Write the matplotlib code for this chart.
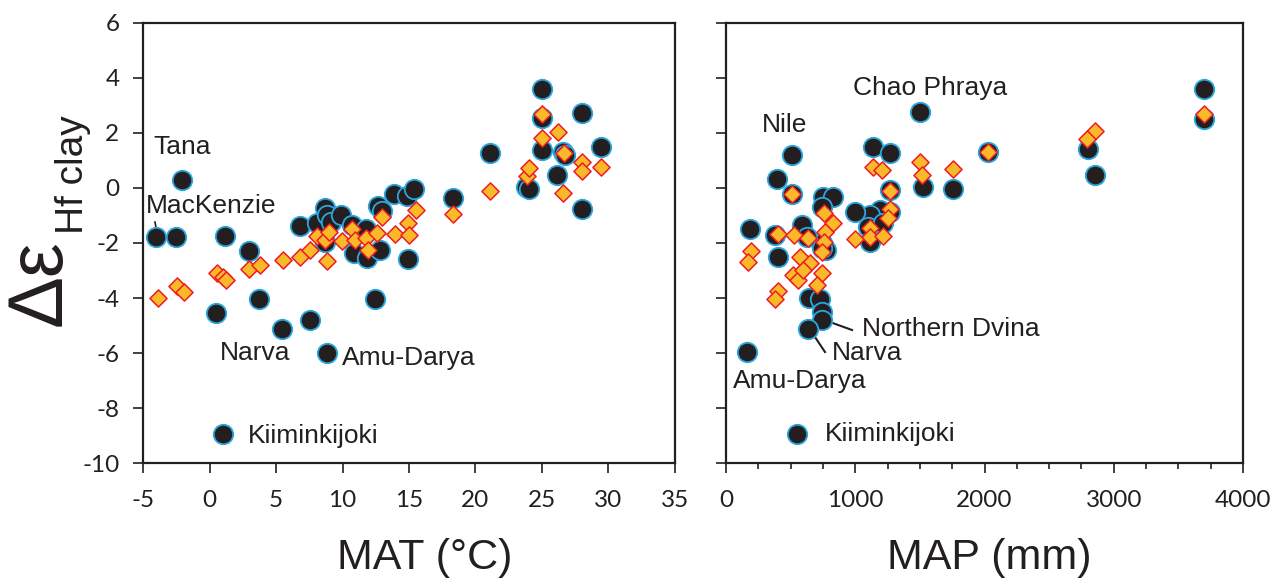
import matplotlib
matplotlib.use("Agg")
import matplotlib.pyplot as plt
from matplotlib.ticker import MultipleLocator

plt.rcParams["axes.unicode_minus"] = False

# --- MAT panel: black circles (measured), yellow diamonds (second estimate) ---
mat_circ_x = [-2.1, -4.0, -2.5, 1.2, 3.0, 6.8, 8.1, 8.7, 8.8, 9.1, 8.7, 9.9, 10.7, 10.85,
              11.8, 11.85, 12.7, 12.95, 12.8, 13.9, 14.85, 15.4, 14.9, 18.3, 21.1, 23.8,
              24.0, 25.0, 25.0, 25.0, 26.1, 26.6, 26.7, 28.0, 28.0, 29.4, 0.5, 3.7, 5.45,
              7.55, 12.45, 8.8, 1.0]
mat_circ_y = [0.3, -1.77, -1.77, -1.73, -2.28, -1.4, -1.28, -0.74, -0.98, -1.23, -1.95, -0.98,
              -1.35, -2.37, -1.5, -2.55, -0.65, -0.82, -2.25, -0.21, -0.3, -0.03, -2.57, -0.35,
              1.28, 0.05, -0.05, 3.6, 2.53, 1.38, 0.47, 1.3, 1.2, 2.71, -0.78, 1.5, -4.55,
              -4.04, -5.13, -4.8, -4.03, -6.0, -8.95]

mat_diam_x = [-3.85, -2.45, -1.95, 0.58, 1.05, 1.25, 3.0, 3.8, 5.5, 6.8, 7.55, 8.1, 8.68, 9.0,
              8.8, 9.95, 10.75, 10.95, 11.8, 11.88, 12.6, 12.95, 13.95, 14.95, 15.0, 15.5,
              18.3, 21.1, 23.9, 24.0, 25.0, 25.0, 26.2, 26.65, 26.6, 28.0, 28.0, 29.4]
mat_diam_y = [-4.0, -3.56, -3.79, -3.1, -3.25, -3.33, -2.95, -2.8, -2.62, -2.5, -2.25, -1.75,
              -1.9, -1.6, -2.65, -1.93, -1.5, -1.89, -1.83, -2.27, -1.65, -1.07, -1.69, -1.27,
              -1.71, -0.8, -0.95, -0.11, 0.43, 0.71, 2.68, 1.82, 2.02, 1.28, -0.17, 0.95,
              0.63, 0.77]

# --- MAP panel ---
map_circ_x = [3699, 3699, 2802, 2854, 2029, 1500, 1521, 1753, 1139, 1268, 1268, 1268, 1191,
              1114, 1101, 1216, 1114, 998, 508, 397, 508, 753, 825, 740, 745, 770, 186, 379,
              585, 624, 740, 405, 645, 727, 740, 740, 637, 160, 549]
map_circ_y = [3.59, 2.5, 1.4, 0.47, 1.32, 2.74, 0.04, -0.05, 1.5, 1.28, -0.08, -0.86, -0.8,
              -0.98, -1.41, -1.28, -1.95, -0.86, 1.2, 0.31, -0.22, -0.32, -0.32, -0.68, -2.0,
              -2.25, -1.5, -1.71, -1.35, -1.77, -2.19, -2.5, -4.0, -4.04, -4.49, -4.8, -5.13,
              -5.95, -8.93]

map_diam_x = [3699, 2854, 2794, 2029, 1500, 1513, 1753, 1139, 1204, 1268, 1268, 1255, 1114,
              1114, 1212, 998, 508, 758, 830, 766, 758, 740, 405, 526, 637, 191, 173, 572,
              650, 521, 559, 598, 740, 701, 405, 379]
map_diam_y = [2.68, 2.07, 1.78, 1.32, 0.93, 0.47, 0.69, 0.77, 0.65, -0.1, -0.78, -1.1, -1.46,
              -1.79, -1.75, -1.86, -0.22, -0.92, -1.26, -1.59, -1.95, -2.31, -1.67, -1.71,
              -1.83, -2.28, -2.7, -2.5, -2.74, -3.16, -3.34, -2.98, -3.1, -3.52, -3.73, -4.04]

# river labels: (text, x, y)
mat_labels = [("Tana", -4.25, 1.5), ("MacKenzie", -4.8, -0.65), ("Narva", 0.8, -6.0),
              ("Amu-Darya", 9.95, -6.18), ("Kiiminkijoki", 2.9, -9.0)]
map_labels = [("Nile", 278, 2.28), ("Chao Phraya", 982, 3.63), ("Northern Dvina", 1052, -5.13),
              ("Narva", 820, -6.0), ("Amu-Darya", 54, -7.0), ("Kiiminkijoki", 766, -8.93)]

INK = "#231F20"
CIRC_FACE, CIRC_EDGE = "#231F20", "#2BA6DE"
DIAM_FACE, DIAM_EDGE = "#F9B928", "#ED1C24"
LBL_FONT = "Liberation Sans"
TICK_FONT = "Lato"

fig = plt.figure(figsize=(12.85, 5.88), dpi=100)
ax1 = fig.add_axes([143 / 1285, 1 - 463.3 / 588, 532 / 1285, 440.6 / 588])
ax2 = fig.add_axes([726 / 1285, 1 - 463.3 / 588, 517 / 1285, 440.6 / 588])


def draw(ax, cx, cy, dx, dy):
    ax.scatter(cx, cy, s=196, marker="o", facecolor=CIRC_FACE, edgecolor=CIRC_EDGE,
               linewidth=1.3, zorder=3)
    ax.scatter(dx, dy, s=76, marker="D", facecolor=DIAM_FACE, edgecolor=DIAM_EDGE,
               linewidth=1.1, zorder=4)
    ax.set_ylim(-10, 6)
    ax.yaxis.set_major_locator(MultipleLocator(2))
    for sp in ax.spines.values():
        sp.set_linewidth(1.6)
        sp.set_color(INK)
    ax.tick_params(direction="out", length=7, width=1.2, color=INK, labelcolor=INK,
                   labelsize=17.5)
    ax.tick_params(axis="x", pad=12)
    ax.tick_params(axis="y", pad=10)


draw(ax1, mat_circ_x, mat_circ_y, mat_diam_x, mat_diam_y)
ax1.set_xlim(-5, 35)
ax1.xaxis.set_major_locator(MultipleLocator(5))

draw(ax2, map_circ_x, map_circ_y, map_diam_x, map_diam_y)
ax2.set_xlim(0, 4000)
ax2.xaxis.set_major_locator(MultipleLocator(1000))
ax2.xaxis.set_minor_locator(MultipleLocator(250))
ax2.tick_params(axis="x", which="minor", direction="out", length=4.5, width=1.2, color=INK)
ax2.tick_params(axis="y", labelleft=False)

for ax in (ax1, ax2):
    for t in ax.get_xticklabels() + ax.get_yticklabels():
        t.set_fontfamily(TICK_FONT)

for ax, labels in ((ax1, mat_labels), (ax2, map_labels)):
    for txt, x, y in labels:
        ax.text(x, y, txt, fontsize=19, family=LBL_FONT, color=INK, ha="left", va="center",
                zorder=5)

# leader lines
ax1.plot([-4.1, -3.95], [-1.24, -1.6], color=INK, lw=1.2, zorder=2)
ax2.plot([828, 975], [-4.91, -5.16], color=INK, lw=1.5, zorder=2)
ax2.plot([688, 766], [-5.41, -5.96], color=INK, lw=1.5, zorder=2)

fig.text(425 / 1285, 1 - 558 / 588, "MAT (°C)", fontsize=31, family=LBL_FONT, color=INK,
         ha="center", va="center")
fig.text(989 / 1285, 1 - 558 / 588, "MAP (mm)", fontsize=31, family=LBL_FONT, color=INK,
         ha="center", va="center")

# y label: large delta-epsilon with a smaller subscript
fig.text(40 / 1285, 1 - 326 / 588, "\u0394\u03b5", fontsize=56, family=LBL_FONT, color=INK,
         rotation=90, ha="center", va="bottom")
fig.text(73 / 1285, 1 - 234 / 588, "Hf clay", fontsize=28, family=LBL_FONT, color=INK,
         rotation=90, ha="center", va="bottom")

fig.savefig("out.png", dpi=100)
